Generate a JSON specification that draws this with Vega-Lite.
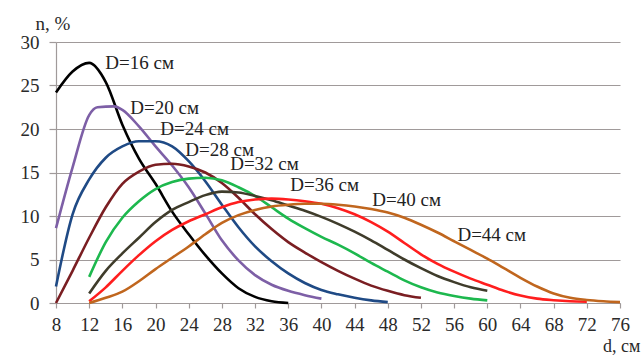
{
  "$schema": "https://vega.github.io/schema/vega-lite/v6.json",
  "width": 564,
  "height": 261,
  "autosize": "none",
  "padding": {"left": 56, "top": 42, "right": 21, "bottom": 52},
  "background": "white",
  "config": {
    "view": {"stroke": null},
    "font": "Liberation Serif, Times New Roman, DejaVu Serif, serif",
    "axis": {
      "labelFont": "Liberation Serif, Times New Roman, DejaVu Serif, serif",
      "titleFont": "Liberation Serif, Times New Roman, DejaVu Serif, serif",
      "labelColor": "#2a2a2a",
      "titleColor": "#2a2a2a",
      "domainColor": "#a09a9a",
      "tickColor": "#a09a9a",
      "gridColor": "#a09a9a",
      "gridOpacity": 1,
      "gridWidth": 1.2,
      "domainWidth": 1.2,
      "tickWidth": 1.2,
      "titleFontWeight": "normal"
    }
  },
  "datasets": {
    "curves": [
      {"d": 8, "n": 24.2, "D": "16"}, {"d": 10, "n": 26.6, "D": "16"}, {"d": 12, "n": 27.6, "D": "16"}, {"d": 14, "n": 25.4, "D": "16"}, {"d": 16, "n": 20.5, "D": "16"}, {"d": 18, "n": 16.6, "D": "16"}, {"d": 20, "n": 13.7, "D": "16"}, {"d": 22, "n": 10.5, "D": "16"}, {"d": 24, "n": 7.9, "D": "16"}, {"d": 26, "n": 5.5, "D": "16"}, {"d": 28, "n": 3.4, "D": "16"}, {"d": 30, "n": 1.7, "D": "16"}, {"d": 32, "n": 0.7, "D": "16"}, {"d": 34, "n": 0.2, "D": "16"}, {"d": 36, "n": 0, "D": "16"},
      {"d": 8, "n": 8.6, "D": "20"}, {"d": 10, "n": 15.6, "D": "20"}, {"d": 12, "n": 21.6, "D": "20"}, {"d": 13, "n": 22.5, "D": "20"}, {"d": 15, "n": 22.6, "D": "20"}, {"d": 16, "n": 22.2, "D": "20"}, {"d": 18, "n": 20.3, "D": "20"}, {"d": 20, "n": 18.0, "D": "20"}, {"d": 22, "n": 15.8, "D": "20"}, {"d": 24, "n": 13.3, "D": "20"}, {"d": 26, "n": 10.3, "D": "20"}, {"d": 28, "n": 7.2, "D": "20"}, {"d": 30, "n": 4.9, "D": "20"}, {"d": 32, "n": 3.2, "D": "20"}, {"d": 34, "n": 2.1, "D": "20"}, {"d": 36, "n": 1.4, "D": "20"}, {"d": 38, "n": 0.9, "D": "20"}, {"d": 40, "n": 0.5, "D": "20"},
      {"d": 8, "n": 1.9, "D": "24"}, {"d": 10, "n": 10.2, "D": "24"}, {"d": 12, "n": 14.2, "D": "24"}, {"d": 14, "n": 16.7, "D": "24"}, {"d": 16, "n": 18.0, "D": "24"}, {"d": 18, "n": 18.6, "D": "24"}, {"d": 20, "n": 18.6, "D": "24"}, {"d": 22, "n": 18.0, "D": "24"}, {"d": 24, "n": 16.3, "D": "24"}, {"d": 26, "n": 14.0, "D": "24"}, {"d": 28, "n": 11.3, "D": "24"}, {"d": 30, "n": 8.7, "D": "24"}, {"d": 32, "n": 6.5, "D": "24"}, {"d": 34, "n": 4.8, "D": "24"}, {"d": 36, "n": 3.4, "D": "24"}, {"d": 38, "n": 2.3, "D": "24"}, {"d": 40, "n": 1.5, "D": "24"}, {"d": 42, "n": 1.0, "D": "24"}, {"d": 44, "n": 0.6, "D": "24"}, {"d": 46, "n": 0.3, "D": "24"}, {"d": 48, "n": 0.1, "D": "24"},
      {"d": 8, "n": 0, "D": "28"}, {"d": 10, "n": 3.7, "D": "28"}, {"d": 12, "n": 7.5, "D": "28"}, {"d": 14, "n": 11.0, "D": "28"}, {"d": 16, "n": 13.7, "D": "28"}, {"d": 18, "n": 15.1, "D": "28"}, {"d": 20, "n": 15.9, "D": "28"}, {"d": 22, "n": 16.0, "D": "28"}, {"d": 24, "n": 15.7, "D": "28"}, {"d": 26, "n": 15.0, "D": "28"}, {"d": 28, "n": 13.8, "D": "28"}, {"d": 30, "n": 12.1, "D": "28"}, {"d": 32, "n": 10.2, "D": "28"}, {"d": 34, "n": 8.5, "D": "28"}, {"d": 36, "n": 7.0, "D": "28"}, {"d": 38, "n": 5.8, "D": "28"}, {"d": 40, "n": 4.7, "D": "28"}, {"d": 42, "n": 3.7, "D": "28"}, {"d": 44, "n": 2.8, "D": "28"}, {"d": 46, "n": 2.0, "D": "28"}, {"d": 48, "n": 1.4, "D": "28"}, {"d": 50, "n": 0.9, "D": "28"}, {"d": 52, "n": 0.6, "D": "28"},
      {"d": 12, "n": 3.0, "D": "32"}, {"d": 14, "n": 7.0, "D": "32"}, {"d": 16, "n": 9.8, "D": "32"}, {"d": 18, "n": 11.7, "D": "32"}, {"d": 20, "n": 13.1, "D": "32"}, {"d": 22, "n": 13.9, "D": "32"}, {"d": 24, "n": 14.3, "D": "32"}, {"d": 26, "n": 14.4, "D": "32"}, {"d": 28, "n": 14.1, "D": "32"}, {"d": 30, "n": 13.3, "D": "32"}, {"d": 32, "n": 12.3, "D": "32"}, {"d": 34, "n": 11.0, "D": "32"}, {"d": 36, "n": 9.7, "D": "32"}, {"d": 38, "n": 8.6, "D": "32"}, {"d": 40, "n": 7.6, "D": "32"}, {"d": 42, "n": 6.7, "D": "32"}, {"d": 44, "n": 5.7, "D": "32"}, {"d": 46, "n": 4.6, "D": "32"}, {"d": 48, "n": 3.6, "D": "32"}, {"d": 50, "n": 2.6, "D": "32"}, {"d": 52, "n": 1.8, "D": "32"}, {"d": 54, "n": 1.2, "D": "32"}, {"d": 56, "n": 0.8, "D": "32"}, {"d": 58, "n": 0.5, "D": "32"}, {"d": 60, "n": 0.3, "D": "32"},
      {"d": 12, "n": 1.1, "D": "36"}, {"d": 14, "n": 3.7, "D": "36"}, {"d": 16, "n": 5.7, "D": "36"}, {"d": 18, "n": 7.5, "D": "36"}, {"d": 20, "n": 9.3, "D": "36"}, {"d": 22, "n": 10.7, "D": "36"}, {"d": 24, "n": 11.6, "D": "36"}, {"d": 26, "n": 12.4, "D": "36"}, {"d": 28, "n": 12.8, "D": "36"}, {"d": 30, "n": 12.7, "D": "36"}, {"d": 32, "n": 12.3, "D": "36"}, {"d": 34, "n": 11.8, "D": "36"}, {"d": 36, "n": 11.2, "D": "36"}, {"d": 38, "n": 10.6, "D": "36"}, {"d": 40, "n": 9.9, "D": "36"}, {"d": 42, "n": 9.1, "D": "36"}, {"d": 44, "n": 8.2, "D": "36"}, {"d": 46, "n": 7.2, "D": "36"}, {"d": 48, "n": 6.1, "D": "36"}, {"d": 50, "n": 5.0, "D": "36"}, {"d": 52, "n": 4.0, "D": "36"}, {"d": 54, "n": 3.1, "D": "36"}, {"d": 56, "n": 2.4, "D": "36"}, {"d": 58, "n": 1.8, "D": "36"}, {"d": 60, "n": 1.4, "D": "36"},
      {"d": 12, "n": 0.2, "D": "40"}, {"d": 14, "n": 1.8, "D": "40"}, {"d": 16, "n": 3.7, "D": "40"}, {"d": 18, "n": 5.5, "D": "40"}, {"d": 20, "n": 7.1, "D": "40"}, {"d": 22, "n": 8.4, "D": "40"}, {"d": 24, "n": 9.4, "D": "40"}, {"d": 26, "n": 10.2, "D": "40"}, {"d": 28, "n": 11.0, "D": "40"}, {"d": 30, "n": 11.6, "D": "40"}, {"d": 32, "n": 11.9, "D": "40"}, {"d": 34, "n": 12.0, "D": "40"}, {"d": 36, "n": 11.9, "D": "40"}, {"d": 38, "n": 11.7, "D": "40"}, {"d": 40, "n": 11.4, "D": "40"}, {"d": 42, "n": 10.9, "D": "40"}, {"d": 44, "n": 10.2, "D": "40"}, {"d": 46, "n": 9.3, "D": "40"}, {"d": 48, "n": 8.2, "D": "40"}, {"d": 50, "n": 6.9, "D": "40"}, {"d": 52, "n": 5.6, "D": "40"}, {"d": 54, "n": 4.5, "D": "40"}, {"d": 56, "n": 3.6, "D": "40"}, {"d": 58, "n": 2.8, "D": "40"}, {"d": 60, "n": 2.1, "D": "40"}, {"d": 62, "n": 1.4, "D": "40"}, {"d": 64, "n": 0.85, "D": "40"}, {"d": 66, "n": 0.5, "D": "40"}, {"d": 68, "n": 0.32, "D": "40"}, {"d": 70, "n": 0.2, "D": "40"}, {"d": 72, "n": 0.15, "D": "40"},
      {"d": 12, "n": 0, "D": "44"}, {"d": 14, "n": 0.6, "D": "44"}, {"d": 16, "n": 1.3, "D": "44"}, {"d": 18, "n": 2.5, "D": "44"}, {"d": 20, "n": 3.9, "D": "44"}, {"d": 22, "n": 5.2, "D": "44"}, {"d": 24, "n": 6.5, "D": "44"}, {"d": 26, "n": 7.9, "D": "44"}, {"d": 28, "n": 9.2, "D": "44"}, {"d": 30, "n": 10.1, "D": "44"}, {"d": 32, "n": 10.7, "D": "44"}, {"d": 34, "n": 11.1, "D": "44"}, {"d": 36, "n": 11.3, "D": "44"}, {"d": 38, "n": 11.4, "D": "44"}, {"d": 40, "n": 11.4, "D": "44"}, {"d": 42, "n": 11.3, "D": "44"}, {"d": 44, "n": 11.1, "D": "44"}, {"d": 46, "n": 10.8, "D": "44"}, {"d": 48, "n": 10.4, "D": "44"}, {"d": 50, "n": 9.8, "D": "44"}, {"d": 52, "n": 9.0, "D": "44"}, {"d": 54, "n": 8.1, "D": "44"}, {"d": 56, "n": 7.1, "D": "44"}, {"d": 58, "n": 6.1, "D": "44"}, {"d": 60, "n": 5.1, "D": "44"}, {"d": 62, "n": 4.0, "D": "44"}, {"d": 64, "n": 2.9, "D": "44"}, {"d": 66, "n": 1.9, "D": "44"}, {"d": 68, "n": 1.1, "D": "44"}, {"d": 70, "n": 0.6, "D": "44"}, {"d": 72, "n": 0.35, "D": "44"}, {"d": 74, "n": 0.2, "D": "44"}, {"d": 76, "n": 0.1, "D": "44"}
    ],
    "labels": [
      {"label": "D=16 см", "d": 13.94, "n": 26.9},
      {"label": "D=20 см", "d": 16.96, "n": 21.78},
      {"label": "D=24 см", "d": 20.57, "n": 19.31},
      {"label": "D=28 см", "d": 23.59, "n": 16.9},
      {"label": "D=32 см", "d": 29.0, "n": 15.29},
      {"label": "D=36 см", "d": 36.25, "n": 12.87},
      {"label": "D=40 см", "d": 46.14, "n": 11.15},
      {"label": "D=44 см", "d": 56.4, "n": 7.13}
    ]
  },
  "resolve": {"axis": {"x": "independent"}},
  "layer": [
    {
      "data": {"name": "curves"},
      "mark": {"type": "line", "interpolate": "monotone", "strokeWidth": 2.6, "clip": false},
      "encoding": {
        "x": {
          "field": "d", "type": "quantitative",
          "scale": {"domain": [8, 76], "nice": false, "zero": false},
          "axis": {
            "orient": "bottom",
            "values": [8, 16, 24, 32, 40, 48, 56, 64, 72],
            "grid": false, "tickSize": 5, "labelPadding": 7, "labelFontSize": 19,
            "labelFlush": false,
            "title": "d, см", "titleFontSize": 18, "titleAlign": "right", "titleBaseline": "alphabetic",
            "titleX": 584, "titleY": 48
          }
        },
        "y": {
          "field": "n", "type": "quantitative",
          "scale": {"domain": [0, 30], "nice": false},
          "axis": {
            "values": [0, 5, 10, 15, 20, 25, 30],
            "grid": true, "tickSize": 7, "labelPadding": 10, "labelFontSize": 19,
            "title": "n, %", "titleFontSize": 19, "titleAngle": 0, "titleAlign": "left",
            "titleBaseline": "alphabetic", "titleX": -21, "titleY": -13
          }
        },
        "color": {
          "field": "D", "type": "nominal",
          "scale": {
            "domain": ["16", "20", "24", "28", "32", "36", "40", "44"],
            "range": ["#000000", "#7d5fa6", "#1f4a85", "#7a1e22", "#1db84e", "#3f3c2b", "#ff1e1e", "#c0661e"]
          },
          "legend": null
        }
      }
    },
    {
      "data": {"name": "labels"},
      "mark": {"type": "text", "align": "left", "baseline": "alphabetic", "font": "Liberation Serif, Times New Roman, DejaVu Serif, serif", "fontSize": 19, "color": "#222222"},
      "encoding": {
        "x": {
          "field": "d", "type": "quantitative",
          "axis": {
            "orient": "bottom",
            "values": [12, 20, 28, 36, 44, 52, 60, 68, 76],
            "grid": false, "domain": false, "tickSize": 5, "labelPadding": 7, "labelFontSize": 19,
            "labelFlush": false, "title": null
          }
        },
        "y": {"field": "n", "type": "quantitative"},
        "text": {"field": "label"}
      }
    }
  ]
}
